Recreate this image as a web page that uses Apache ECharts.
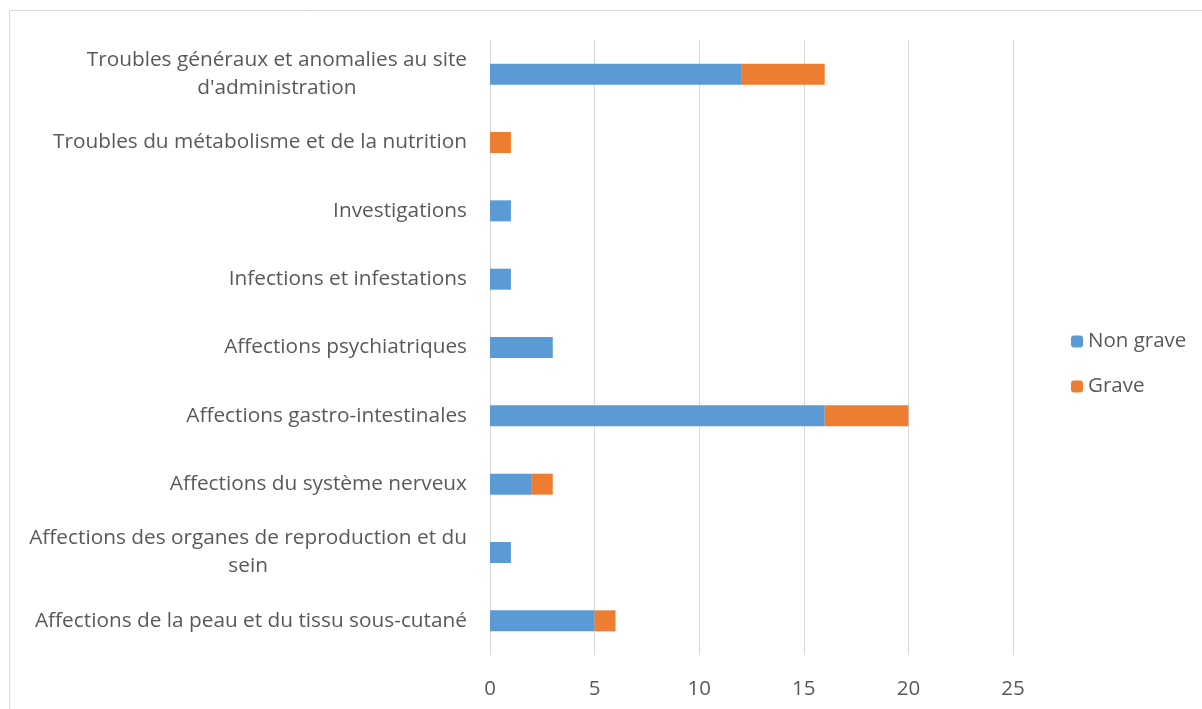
<!DOCTYPE html>
<html>
<head>
<meta charset="utf-8">
<script src="https://cdn.jsdelivr.net/npm/echarts@6/dist/echarts.min.js"></script>
<style>html,body{margin:0;padding:0;background:#fff;}#c{width:1202px;height:709px;}</style>
</head>
<body>
<div id="c"></div>
<script>
const categories = [
  "Affections de la peau et du tissu sous-cutané",
  "Affections des organes de reproduction et du\nsein",
  "Affections du système nerveux",
  "Affections gastro-intestinales",
  "Affections psychiatriques",
  "Infections et infestations",
  "Investigations",
  "Troubles du métabolisme et de la nutrition",
  "Troubles généraux et anomalies au site\nd'administration"
];
const nonGrave = [5, 1, 2, 16, 3, 1, 1, 0, 12];
const grave = [1, 0, 1, 4, 0, 0, 0, 1, 4];
const xTicks = [0, 5, 10, 15, 20, 25];

const chart = echarts.init(document.getElementById('c'), null, {renderer: 'canvas'});
const font = '"Open Sans", sans-serif';
const fs = 20.8;
chart.setOption({
  animation: false,
  backgroundColor: '#fff',
  graphic: [{
    type: 'rect', shape: {x: 9.5, y: 10.5, width: 1300, height: 800},
    style: {fill: 'none', stroke: '#d9d9d9', lineWidth: 1}, silent: true
  }],
  grid: {left: 490, right: 189, top: 40, bottom: 54, containLabel: false},
  legend: {
    orient: 'vertical', left: 1066, top: 326,
    itemWidth: 12, itemHeight: 12, itemGap: 24,
    textStyle: {fontFamily: font, fontSize: 20.5, color: '#595959'},
    data: ['Non grave', 'Grave']
  },
  xAxis: {
    type: 'value', min: 0, max: 25, interval: 5,
    axisLine: {show: false}, axisTick: {show: false},
    splitLine: {show: true, lineStyle: {color: '#d9d9d9', width: 1}},
    axisLabel: {
      margin: 24, fontFamily: font, fontSize: 20.5, color: '#595959',
      formatter: v => xTicks.includes(v) ? String(v) : ''
    }
  },
  yAxis: {
    type: 'category', data: categories,
    axisLine: {show: false}, axisTick: {show: false},
    axisLabel: {
      margin: 23, fontFamily: font, fontSize: fs, color: '#595959', lineHeight: 28,
      formatter: v => v.split('\n').map(l => '{c|' + l + '}').join('\n'),
      rich: {c: {align: 'center', fontFamily: font, fontSize: fs, color: '#595959', lineHeight: 28}}
    }
  },
  series: [
    {name: 'Non grave', type: 'bar', stack: 's', data: nonGrave, barWidth: 21,
     itemStyle: {color: '#5B9BD5'}},
    {name: 'Grave', type: 'bar', stack: 's', data: grave, barWidth: 21,
     itemStyle: {color: '#ED7D31'}}
  ]
});
</script>
</body>
</html>
